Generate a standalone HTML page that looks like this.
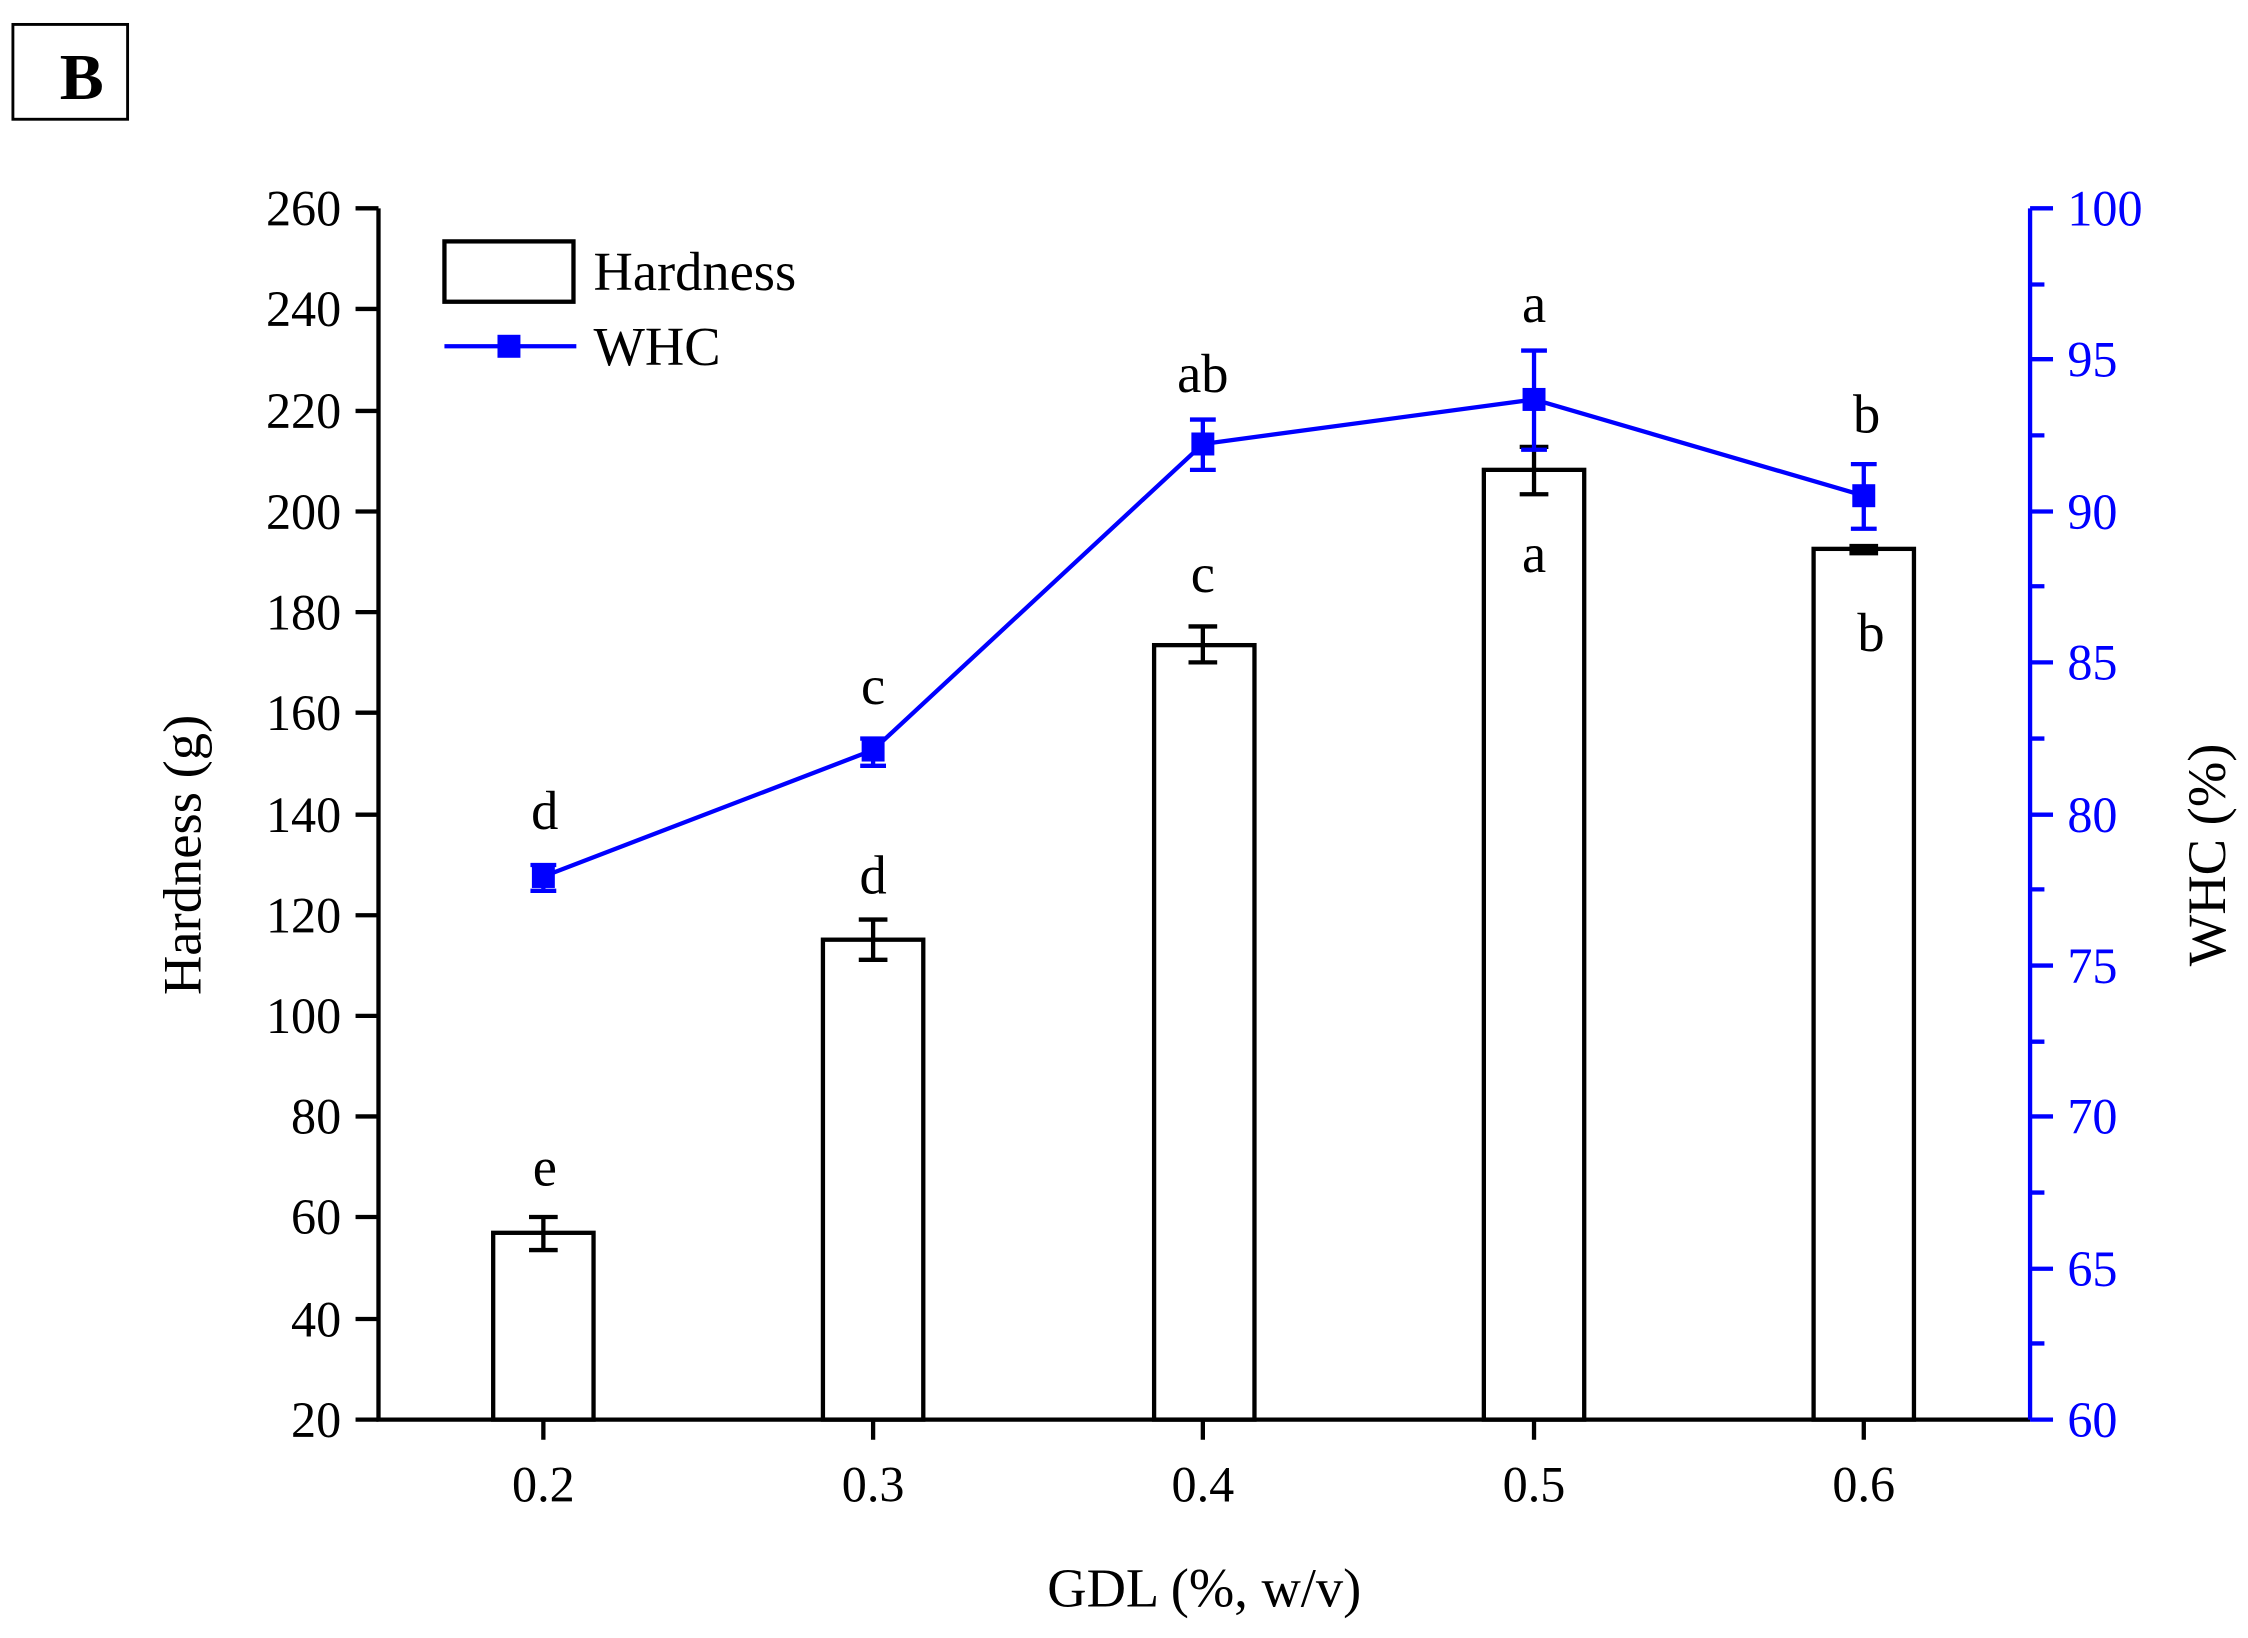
<!DOCTYPE html>
<html><head><meta charset="utf-8"><style>html,body{margin:0;padding:0;background:#fff}svg{display:block}</style></head>
<body>
<svg width="2248" height="1638" viewBox="0 0 1568 1140" preserveAspectRatio="none" xmlns="http://www.w3.org/2000/svg" font-family="Liberation Serif, serif">
<rect x="9" y="17" width="80" height="66" fill="none" stroke="#000" stroke-width="2"/>
<text x="57" y="69" font-size="46" font-weight="bold" text-anchor="middle">B</text>
<!-- bars -->
<g fill="none" stroke="#000" stroke-width="3">
<rect x="344" y="858" width="70" height="130"/>
<rect x="574" y="654" width="70" height="334"/>
<rect x="805" y="449" width="70" height="539"/>
<rect x="1035" y="327" width="70" height="661"/>
<rect x="1265" y="382" width="70" height="606"/>
</g>
<g stroke="#000" stroke-width="3" fill="none">
<path d="M379 847V870M369 847H389M369 870H389"/>
<path d="M609 640V668M599 640H619M599 668H619"/>
<path d="M839 436V461M829 436H849M829 461H849"/>
<path d="M1070 311V344M1060 311H1080M1060 344H1080"/>
<path d="M1300 380V385M1290 380H1310M1290 385H1310"/>
</g>
<!-- axes -->
<g stroke="#000" stroke-width="3" fill="none">
<path d="M264 145V988H1416"/>
<path d="M248 145H264M248 215H264M248 286H264M248 356H264M248 426H264M248 496H264M248 567H264M248 637H264M248 707H264M248 777H264M248 847H264M248 918H264M248 988H264"/>
<path d="M379 988V1002M609 988V1002M839 988V1002M1070 988V1002M1300 988V1002"/>
</g>
<g stroke="#0000ff" stroke-width="3" fill="none">
<path d="M1416 145V988"/>
<path d="M1416 145H1432M1416 250H1432M1416 356H1432M1416 461H1432M1416 567H1432M1416 672H1432M1416 777H1432M1416 883H1432M1416 988H1432"/>
<path d="M1416 198H1426M1416 303H1426M1416 408H1426M1416 514H1426M1416 619H1426M1416 725H1426M1416 830H1426M1416 935H1426"/>
</g>
<g font-size="35" text-anchor="end">
<text x="238" y="157">260</text><text x="238" y="227">240</text><text x="238" y="298">220</text><text x="238" y="368">200</text><text x="238" y="438">180</text><text x="238" y="508">160</text><text x="238" y="579">140</text><text x="238" y="649">120</text><text x="238" y="719">100</text><text x="238" y="789">80</text><text x="238" y="859">60</text><text x="238" y="930">40</text><text x="238" y="1000">20</text>
</g>
<g font-size="35" fill="#0000ff">
<text x="1442" y="157">100</text><text x="1442" y="262">95</text><text x="1442" y="368">90</text><text x="1442" y="473">85</text><text x="1442" y="579">80</text><text x="1442" y="684">75</text><text x="1442" y="789">70</text><text x="1442" y="895">65</text><text x="1442" y="1000">60</text>
</g>
<g font-size="35" text-anchor="middle">
<text x="379" y="1045">0.2</text><text x="609" y="1045">0.3</text><text x="839" y="1045">0.4</text><text x="1070" y="1045">0.5</text><text x="1300" y="1045">0.6</text>
</g>
<text x="840" y="1118" font-size="38" text-anchor="middle">GDL (%, w/v)</text>
<text transform="translate(140 595) rotate(-90)" font-size="38" text-anchor="middle">Hardness (g)</text>
<text transform="translate(1552 595) rotate(-90)" font-size="38" text-anchor="middle">WHC (%)</text>
<!-- WHC line -->
<g stroke="#0000ff" stroke-width="3" fill="none">
<path d="M379 610L609 522L839 309L1070 278L1300 345"/>
<path d="M379 602V620M370 602H388M370 620H388"/>
<path d="M609 514V533M600 514H618M600 533H618"/>
<path d="M839 292V327M830 292H848M830 327H848"/>
<path d="M1070 244V313M1061 244H1079M1061 313H1079"/>
<path d="M1300 323V368M1291 323H1309M1291 368H1309"/>
</g>
<g fill="#0000ff">
<rect x="371" y="602" width="16" height="16"/>
<rect x="601" y="514" width="16" height="16"/>
<rect x="831" y="301" width="16" height="16"/>
<rect x="1062" y="270" width="16" height="16"/>
<rect x="1292" y="337" width="16" height="16"/>
</g>
<!-- letters -->
<g font-size="38" text-anchor="middle">
<text x="380" y="577">d</text><text x="609" y="490">c</text><text x="839" y="273">ab</text><text x="1070" y="224">a</text><text x="1302" y="301">b</text>
<text x="380" y="825">e</text><text x="609" y="622">d</text><text x="839" y="412">c</text><text x="1070" y="398">a</text><text x="1305" y="453">b</text>
</g>
<!-- legend -->
<rect x="310" y="168" width="90" height="42" fill="none" stroke="#000" stroke-width="3"/>
<text x="414" y="202" font-size="38">Hardness</text>
<path d="M310 241H402" stroke="#0000ff" stroke-width="3"/>
<rect x="347" y="233" width="16" height="16" fill="#0000ff"/>
<text x="414" y="254" font-size="38">WHC</text>
</svg>
</body></html>
